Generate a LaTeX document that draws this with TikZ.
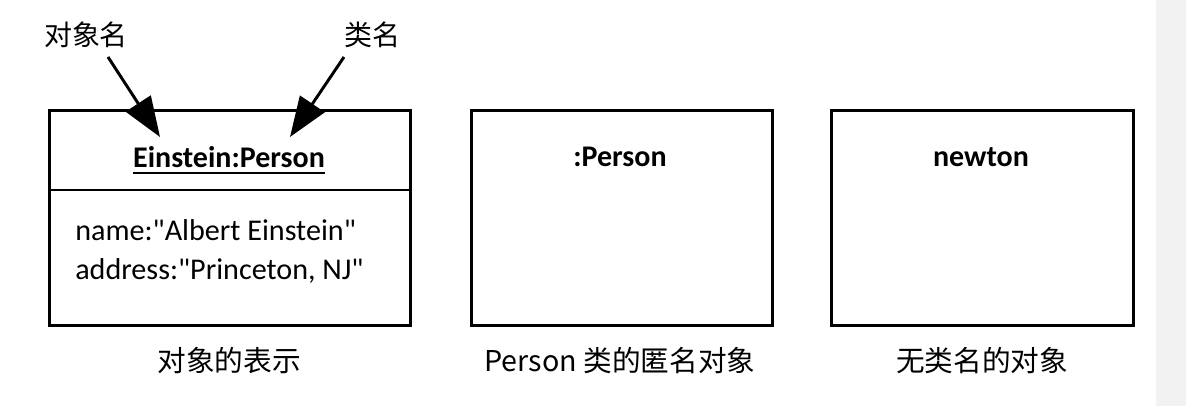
\documentclass[tikz,border=0pt]{standalone}
\usepackage{fontspec}
\setmainfont{Carlito}[Ligatures=TeXOff]
\newfontfamily\cjk{Noto Sans CJK SC}
\usetikzlibrary{arrows.meta}
\begin{document}
\begin{tikzpicture}[x=0.75pt,y=-0.75pt,
  box/.style={draw,line width=2.2pt,inner sep=0pt,anchor=north west},
  lbl/.style={font=\fontsize{22.6}{26}\selectfont,inner sep=0pt},
  boldlbl/.style={font=\bfseries\fontsize{22.5}{26}\selectfont,inner sep=0pt,anchor=base},
  captext/.style={font=\cjk\fontsize{21.5}{24}\selectfont,inner sep=0pt},
  toptext/.style={font=\cjk\fontsize{21}{24}\selectfont,inner sep=0pt},
  arr/.style={-{Triangle[length=30pt,width=22pt]},line width=2.2pt}]
\useasboundingbox (0,0) rectangle (1186,406);
\fill[black!5] (1156,0) rectangle (1186,406);
% boxes
\node[box,minimum width=270.75pt,minimum height=161.25pt] (b1) at (48,109) {};
\node[box,minimum width=225.75pt,minimum height=161.25pt] (b2) at (470,109) {};
\node[box,minimum width=226.5pt,minimum height=161.25pt] (b3) at (830,109) {};
\coordinate (d1) at (48,190);
\coordinate (d2) at (409,190);
\draw[line width=2.2pt] (d1) -- (d2);
% titles
\node[boldlbl] (t1) at (229,168) {Einstein:Person};
\draw[line width=1.6pt] ([yshift=-4pt]t1.base west) -- ([yshift=-4pt]t1.base east);
\node[boldlbl] (t2) at (620,167) {:Person};
\node[boldlbl] (t3) at (981,167) {newton};
% attributes
\node[lbl,anchor=base west] (a1) at (75,241) {name:"Albert Einstein"};
\node[lbl,anchor=base west] (a2) at (75,280) {address:"Princeton, NJ"};
% captions
\node[captext] (c1) at (229,361) {对象的表示};
\node[captext] (c2) at (620,361) {Person 类的匿名对象};
\node[captext] (c3) at (982,361) {无类名的对象};
% top labels
\node[toptext] (l1) at (86,35) {对象名};
\node[toptext] (l2) at (372,35) {类名};
\coordinate (s1) at (108,57);
\coordinate (e1) at (160,137);
\coordinate (s2) at (344,57);
\coordinate (e2) at (290,137);
\draw[arr] (s1) -- (e1);
\draw[arr] (s2) -- (e2);
\end{tikzpicture}
\end{document}
